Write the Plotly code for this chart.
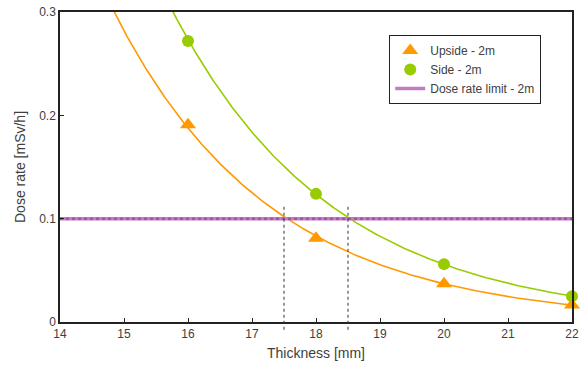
import numpy as np
import plotly.graph_objects as go

thickness = [16, 18, 20, 22]
upside = [0.191, 0.081, 0.037, 0.0165]
side = [0.272, 0.124, 0.056, 0.025]
limit_value = 0.1
cross_points = [17.5, 18.5]
x_ticks = [14, 15, 16, 17, 18, 19, 20, 21, 22]
y_ticks = [0, 0.1, 0.2, 0.3]

ORANGE = "#FF9900"
GREEN = "#99CC00"
PURPLE = "#C27CC2"
FONT = "Liberation Sans, Arial, sans-serif"
TXT = "#404040"

def exp_fit(x, y):
    b, a = np.polyfit(np.array(x, float), np.log(np.array(y, float)), 1)
    xs = np.linspace(14, 22, 400)
    return xs, np.exp(a + b * xs)

fig = go.Figure()

xu, yu = exp_fit(thickness, upside)
xs_, ys_ = exp_fit(thickness, side)

fig.add_trace(go.Scatter(x=xu, y=yu, mode="lines", line=dict(color=ORANGE, width=1.6),
                         showlegend=False, hoverinfo="skip"))
fig.add_trace(go.Scatter(x=xs_, y=ys_, mode="lines", line=dict(color=GREEN, width=1.6),
                         showlegend=False, hoverinfo="skip"))

fig.add_trace(go.Scatter(x=[14, 22], y=[limit_value, limit_value], mode="lines",
                         line=dict(color=PURPLE, width=3.5), name="Dose rate limit - 2m",
                         legendrank=3))
fig.add_trace(go.Scatter(x=[14, 22], y=[limit_value, limit_value], mode="lines",
                         line=dict(color="#A055A0", width=2.5, dash="dot"), showlegend=False,
                         hoverinfo="skip"))

fig.add_trace(go.Scatter(x=thickness, y=upside, mode="markers", name="Upside - 2m",
                         marker=dict(symbol="triangle-up", size=14, color=ORANGE),
                         legendrank=1, cliponaxis=False))
fig.add_trace(go.Scatter(x=thickness, y=side, mode="markers", name="Side - 2m",
                         marker=dict(symbol="circle", size=12, color=GREEN),
                         legendrank=2, cliponaxis=False))

for xc in cross_points:
    fig.add_shape(type="line", xref="x", yref="paper", x0=xc, x1=xc,
                  y0=-0.025, y1=0.112 / 0.3,
                  line=dict(color="#333333", width=1, dash="3px,3px"))

fig.update_layout(
    width=582, height=371,
    margin=dict(l=60, r=10, t=12, b=49, autoexpand=False),
    paper_bgcolor="white", plot_bgcolor="white",
    font=dict(family=FONT, size=12, color=TXT),
    legend=dict(x=0.643, y=0.926, xanchor="left", yanchor="top",
                bordercolor="#222222", borderwidth=1, bgcolor="white",
                font=dict(family=FONT, size=12, color=TXT),
                tracegroupgap=2, itemwidth=30),
    xaxis=dict(range=[14, 22], tickvals=x_ticks, ticks="inside", ticklen=4,
               tickcolor="#222222", showline=True, linecolor="#222222", linewidth=1.5,
               mirror=True, showgrid=False, zeroline=False,
               title=dict(text="Thickness [mm]", standoff=8),
               tickfont=dict(size=12, color=TXT)),
    yaxis=dict(range=[0, 0.3], tickvals=y_ticks, ticktext=["0", "0.1", "0.2", "0.3"],
               ticks="inside", ticklen=4, tickcolor="#222222",
               showline=True, linecolor="#222222", linewidth=1.5, mirror=True,
               showgrid=False, zeroline=False,
               title=dict(text="Dose rate [mSv/h]", standoff=10),
               tickfont=dict(size=12, color=TXT)),
)

fig.write_html("out.html", config={"displayModeBar": False},
               post_script="document.body.style.margin='0';document.body.style.padding='0';")
